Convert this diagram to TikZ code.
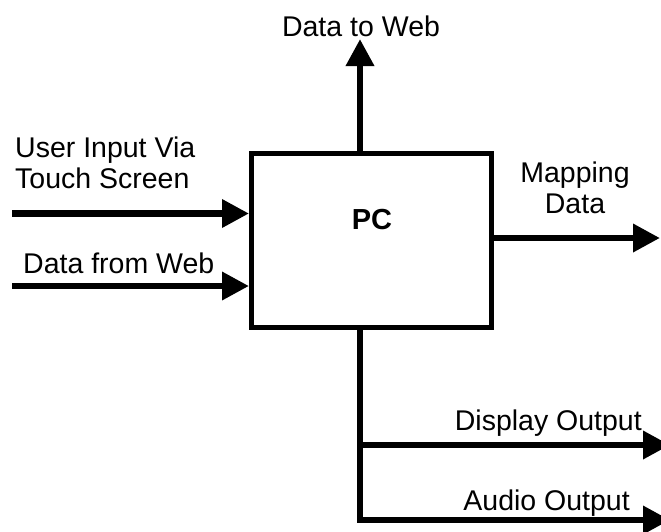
\documentclass[tikz,border=0pt]{standalone}
\usepackage{fontspec}
\setmainfont{Liberation Sans}
\usetikzlibrary{arrows.meta}
\begin{document}
\begin{tikzpicture}[x=1pt,y=-1pt,
  wire/.style={line width=6.5pt},
  flow/.style={wire,-{Triangle[length=27pt,width=27pt]}},
  pcbox/.style={draw,line width=5pt,minimum width=240pt,minimum height=174pt,inner sep=0pt},
  lbl/.style={font=\fontsize{28.5}{32}\selectfont,inner sep=0pt}]
% page area
\fill[white] (0,0) rectangle (661,531);
\useasboundingbox (0,0) rectangle (661,531);

% the processing block
\node[pcbox] (pc) at (371.5,240) {};
\node[inner sep=0pt,font=\fontsize{29}{32}\selectfont\bfseries,anchor=base] (pclbl) at (372,229) {PC};

% free ends of the connectors
\coordinate (in1) at (12,213.5);
\coordinate (in2) at (12,286);
\coordinate (upTip) at (360,39);
\coordinate (mapTip) at (660,238);
\coordinate (bus) at (360,520);
\coordinate (dispTip) at (670,445);
\coordinate (audTip) at (670,520);

% inputs
\draw[flow] (in1) -- (in1 -| pc.west);
\draw[flow] (in2) -- (in2 -| pc.west);

% outputs
\draw[flow] (pc.north -| upTip) -- (upTip);
\draw[flow] (mapTip -| pc.east) -- (mapTip);
\draw[flow] (pc.south -| bus) -- (bus) -- (audTip);
\draw[flow] (dispTip -| bus) -- (dispTip);

% labels
\node[lbl,anchor=base] (tUp) at (361,36.5) {Data to Web};
\node[lbl,anchor=base west] (tIn1a) at (15,157) {User Input Via};
\node[lbl,anchor=base west] (tIn1b) at (15,188) {Touch Screen};
\node[lbl,anchor=base west] (tIn2) at (23,273) {Data from Web};
\node[lbl,anchor=base] (tMapA) at (575,182) {Mapping};
\node[lbl,anchor=base] (tMapB) at (575,213) {Data};
\node[lbl,anchor=base east] (tDisp) at (642,430) {Display Output};
\node[lbl,anchor=base east] (tAud) at (630,510) {Audio Output};
\end{tikzpicture}
\end{document}
